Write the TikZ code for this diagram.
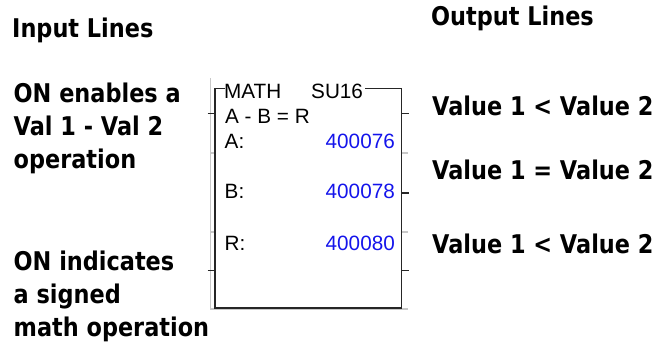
\documentclass[tikz,border=0pt]{standalone}
\usepackage{graphicx}
\usepackage{fontspec}
\setmainfont{Liberation Sans}
\newfontfamily\labfont{DejaVu Sans}
\newcommand\tallbox[1]{\scalebox{1}[1.15]{#1}}
\definecolor{numblue}{RGB}{20,20,235}
\definecolor{gridgray}{RGB}{200,200,200}
\begin{document}
\begin{tikzpicture}[x=1pt,y=-1pt,
  lbl/.style={font=\labfont\bfseries\fontsize{22.4}{28}\selectfont, inner sep=0pt, anchor=base west},
  inside/.style={font=\fontsize{20.7}{24}\selectfont, inner sep=0pt, anchor=base west},
  num/.style={font=\fontsize{20.7}{24}\selectfont, text=numblue, inner sep=0pt, anchor=base east},
  frame/.style={line width=1.5pt, draw=black!85},
  gridline/.style={line width=1.2pt, draw=gridgray},
  tickline/.style={line width=1.5pt, draw=black!85}]
\useasboundingbox (0,0) rectangle (664,346);
% grid lines
\coordinate (gtop) at (210.5,78);
\coordinate (gbot) at (210.5,309);
\coordinate (gbr) at (408,309);
\draw[gridline] (gtop) -- (gbot) -- (gbr);
% box corners
\coordinate (tl) at (215,88.5);
\coordinate (tr) at (401.5,88.5);
\coordinate (bl) at (215,308);
\coordinate (br) at (401.5,308);
\coordinate (tlend) at (225,88.5);
\coordinate (trstart) at (365,88.5);
% gray ticks
\coordinate (gl1) at (210.5,153);
\coordinate (gl2) at (210.5,232);
\coordinate (gr1) at (408,153);
\coordinate (gr2) at (408,232);
\draw[gridline] (gl1) -- (gl1 -| tl);
\draw[gridline] (gl2) -- (gl2 -| tl);
\draw[gridline] (gr1 -| tr) -- (gr1);
\draw[gridline] (gr2 -| tr) -- (gr2);
% frame
\draw[frame] (tlend) -- (tl) -- (bl) -- (br) -- (tr) -- (trstart);
% black ticks
\coordinate (li1) at (207.5,113.5);
\coordinate (li2) at (207.5,270.5);
\coordinate (ro1) at (408.5,113.5);
\coordinate (ro2) at (408.5,193);
\coordinate (ro3) at (408.5,270.5);
\draw[tickline] (li1) -- (li1 -| tl);
\draw[tickline] (li2) -- (li2 -| tl);
\draw[tickline] (ro1 -| tr) -- (ro1);
\draw[tickline] (ro2 -| tr) -- (ro2);
\draw[tickline] (ro3 -| tr) -- (ro3);
% inside text
\node[inside] (math) at (224,98) {MATH};
\node[inside] (su) at (311,98) {SU16};
\node[inside] (eq) at (225,123) {A - B = R};
\node[inside] (la) at (224.5,148) {A:};
\node[inside] (lb) at (224.5,198) {B:};
\node[inside] (lr) at (224.5,250) {R:};
\node[num] (na) at (395,148) {400076};
\node[num] (nb) at (395,198) {400078};
\node[num] (nr) at (395,250) {400080};
% left labels
\node[lbl] (inl) at (12,37) {\tallbox{Input Lines}};
\node[lbl] (in1a) at (13.5,102) {\tallbox{ON enables a}};
\node[lbl] (in1b) at (13.5,135) {\tallbox{Val 1 - Val 2}};
\node[lbl] (in1c) at (13.5,168) {\tallbox{operation}};
\node[lbl] (in2a) at (13.5,270) {\tallbox{ON indicates}};
\node[lbl] (in2b) at (13.5,303) {\tallbox{a signed}};
\node[lbl] (in2c) at (13.5,336) {\tallbox{math operation}};
% right labels
\node[lbl] (outl) at (431,25) {\tallbox{Output Lines}};
\node[lbl] (out1) at (432,115) {\tallbox{Value 1 < Value 2}};
\node[lbl] (out2) at (432,179) {\tallbox{Value 1 = Value 2}};
\node[lbl] (out3) at (432,253) {\tallbox{Value 1 < Value 2}};
\end{tikzpicture}
\end{document}
